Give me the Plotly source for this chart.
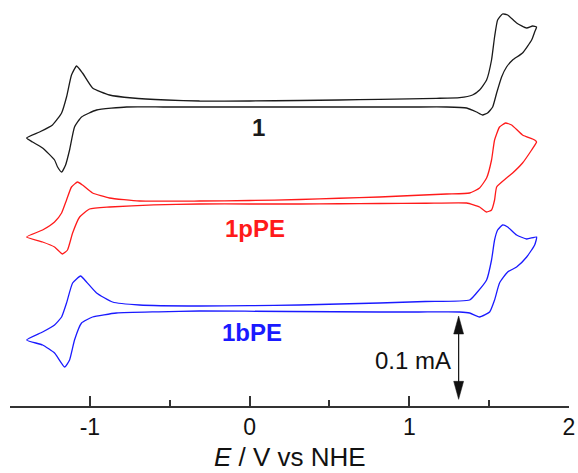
import plotly.graph_objects as go

# ---- data: potentials (V vs NHE) and currents (uA, relative to each trace's own baseline) ----
E_1 = [-1.396, -1.315, -1.234, -1.177, -1.146, -1.115, -1.083, -1.046, -0.983, -0.877, -0.733, -0.52, -0.313, 0.0,
       0.313, 0.56, 0.814, 1.0, 1.171, 1.315, 1.396, 1.440, 1.484, 1.515, 1.534, 1.553, 1.584, 1.616, 1.672, 1.735,
       1.772, 1.797,
       1.785, 1.766, 1.709, 1.647, 1.609, 1.578, 1.547, 1.522, 1.490, 1.459, 1.421, 1.359, 1.234, 1.02, 0.814, 0.56,
       0.313, 0.0, -0.313, -0.54, -0.770, -0.958, -1.052, -1.096, -1.127, -1.152, -1.177, -1.202, -1.221, -1.296,
       -1.359, -1.396]
I_1 = [-40.8, -33.6, -25.2, -10.8, 8.4, 34.8, 45.6, 37.2, 19.2, 10.8, 7.2, 4.8, 3.6, 3.6,
       4.2, 4.8, 5.6, 6.2, 6.8, 7.6, 10.8, 16.8, 28.8, 52.8, 80.4, 100.8, 108.0, 106.8, 97.2, 91.2,
       93.6, 92.4,
       86.4, 76.8, 61.2, 52.8, 44.4, 32.4, 13.2, -3.6, -10.8, -13.2, -9.6, -4.8, -3.6, -3.6, -3.6, -3.6,
       -3.6, -3.6, -3.6, -3.6, -3.6, -7.2, -15.6, -27.6, -55.2, -73.2, -81.6, -75.6, -67.2, -52.8,
       -45.6, -40.8]

E_1p = [-1.396, -1.296, -1.221, -1.177, -1.146, -1.115, -1.077, -1.046, -0.983, -0.877, -0.689, -0.313, 0.0, 0.313,
        0.56, 0.814, 1.02, 1.234, 1.378, 1.440, 1.484, 1.515, 1.534, 1.565, 1.603, 1.641, 1.709, 1.785, 1.797,
        1.766, 1.709, 1.647, 1.609, 1.547, 1.534, 1.515, 1.484, 1.440, 1.359, 1.1, 0.814, 0.56, 0.313, 0.0, -0.313,
        -0.6, -0.877, -1.002, -1.064, -1.108, -1.140, -1.171, -1.221, -1.296, -1.396]
I_1p = [-42.6, -34.2, -24.6, -13.8, 1.8, 17.4, 23.4, 19.8, 10.2, 4.2, 0.6, 0.6, 1.2, 2.4,
        3.9, 5.4, 7.2, 9.0, 10.2, 16.2, 28.2, 49.8, 73.8, 89.4, 94.2, 91.8, 79.8, 73.8, 71.4,
        61.8, 46.2, 34.2, 28.2, 17.4, 1.8, -10.2, -12.6, -6.6, -1.8, -2.1, -2.4, -2.7, -3.0, -3.0, -3.0,
        -4.0, -6.6, -9.0, -18.6, -37.8, -58.2, -63.0, -54.6, -48.6, -42.6]

E_1b = [-1.396, -1.296, -1.221, -1.177, -1.146, -1.108, -1.058, -1.021, -0.958, -0.858, -0.689, -0.313, 0.0, 0.313,
        0.56, 0.814, 1.1, 1.378, 1.421, 1.484, 1.515, 1.534, 1.553, 1.584, 1.616, 1.672, 1.735, 1.797,
        1.785, 1.735, 1.672, 1.616, 1.565, 1.534, 1.503, 1.440, 1.378, 1.315, 1.06, 0.814, 0.25, -0.313,
        -0.57, -0.833, -0.983, -1.052, -1.096, -1.127, -1.158, -1.221, -1.296, -1.396]
I_1b = [-37.8, -28.2, -19.8, -10.2, 6.6, 30.6, 39.0, 31.8, 18.6, 7.8, 4.2, 3.0, 3.4, 4.2,
        5.4, 6.6, 8.4, 10.2, 18.6, 34.2, 58.2, 82.2, 94.2, 100.2, 97.8, 88.2, 83.4, 85.8,
        76.2, 61.8, 49.8, 43.8, 30.6, 10.2, -4.2, -10.2, -5.4, -4.2, -4.2, -4.2, -3.6, -3.0,
        -4.0, -5.4, -10.2, -17.4, -37.8, -61.8, -70.2, -53.4, -43.8, -37.8]

# vertical offsets (uA) used to stack the traces
offsets = {"1": 362.4, "1pPE": 245.4, "1bPE": 117.0}
names = ["1", "1pPE", "1bPE"]
colors = {"1": "#1a1a1a", "1pPE": "#ff1a1a", "1bPE": "#1a1aff"}
label_pos = {"1": (0.056, 334.8), "1pPE": (0.031, 213.6), "1bPE": (0.013, 88.0)}

x_ticks = [-1, 0, 1, 2]
x_minor = [-1.5, -0.5, 0.5, 1.5]
x_range = [-1.5, 2.0]
y_range = [0, 487.2]

# scale bar: 0.1 mA = 100 uA
bar_E = 1.309
bar_low = 8.0
bar_len = 100.0
head_len = 21.6
head_half = 0.031

series = {"1": (E_1, I_1), "1pPE": (E_1p, I_1p), "1bPE": (E_1b, I_1b)}

fig = go.Figure()
for n in names:
    E, I = series[n]
    fig.add_trace(go.Scatter(
        x=E, y=[v + offsets[n] for v in I], mode="lines",
        line=dict(color=colors[n], width=1.3, shape="spline", smoothing=0.45),
        showlegend=False, hoverinfo="skip"))
    lx, ly = label_pos[n]
    fig.add_annotation(x=lx, y=ly, text="<b>%s</b>" % n, showarrow=False,
                       font=dict(family="Liberation Sans, Arial", size=24, color=colors[n]),
                       xanchor="center", yanchor="middle")

# scale bar arrow
bar_high = bar_low + bar_len
fig.add_shape(type="line", x0=bar_E, x1=bar_E, y0=bar_low + head_len * 0.5, y1=bar_high - head_len * 0.5,
              line=dict(color="#111", width=1.2))
up = "M %f %f L %f %f L %f %f Z" % (bar_E, bar_high, bar_E - head_half, bar_high - head_len,
                                     bar_E + head_half, bar_high - head_len)
dn = "M %f %f L %f %f L %f %f Z" % (bar_E, bar_low, bar_E - head_half, bar_low + head_len,
                                     bar_E + head_half, bar_low + head_len)
for p in (up, dn):
    fig.add_shape(type="path", path=p, fillcolor="#111", line=dict(color="#111", width=0.5))
fig.add_annotation(x=bar_E - 0.038, y=bar_low + bar_len * 0.47, text="0.1 mA", showarrow=False,
                   xanchor="right", yanchor="middle",
                   font=dict(family="Liberation Sans, Arial", size=24, color="#111"))

fig.add_annotation(xref="paper", yref="paper", x=0.5, y=-0.126, text="<i>E</i> / V vs NHE",
                   showarrow=False, xanchor="center", yanchor="middle",
                   font=dict(family="Liberation Sans, Arial", size=26, color="#111"))

fig.update_xaxes(range=x_range, showline=True, linecolor="#333", linewidth=1.5,
                 tickvals=x_ticks, ticktext=[str(t) for t in x_ticks],
                 ticks="inside", ticklen=10, tickwidth=1.5, tickcolor="#333",
                 minor=dict(tickvals=x_minor, ticks="inside", ticklen=6, tickwidth=1.5, tickcolor="#333"),
                 tickfont=dict(family="Liberation Sans, Arial", size=23, color="#111"),
                 showgrid=False, zeroline=False, mirror=False)
fig.update_yaxes(range=y_range, visible=False, showgrid=False, zeroline=False)

fig.update_layout(width=578, height=473, margin=dict(l=10, r=9, t=0, b=67),
                  plot_bgcolor="white", paper_bgcolor="white")

fig.write_html("out.html")
